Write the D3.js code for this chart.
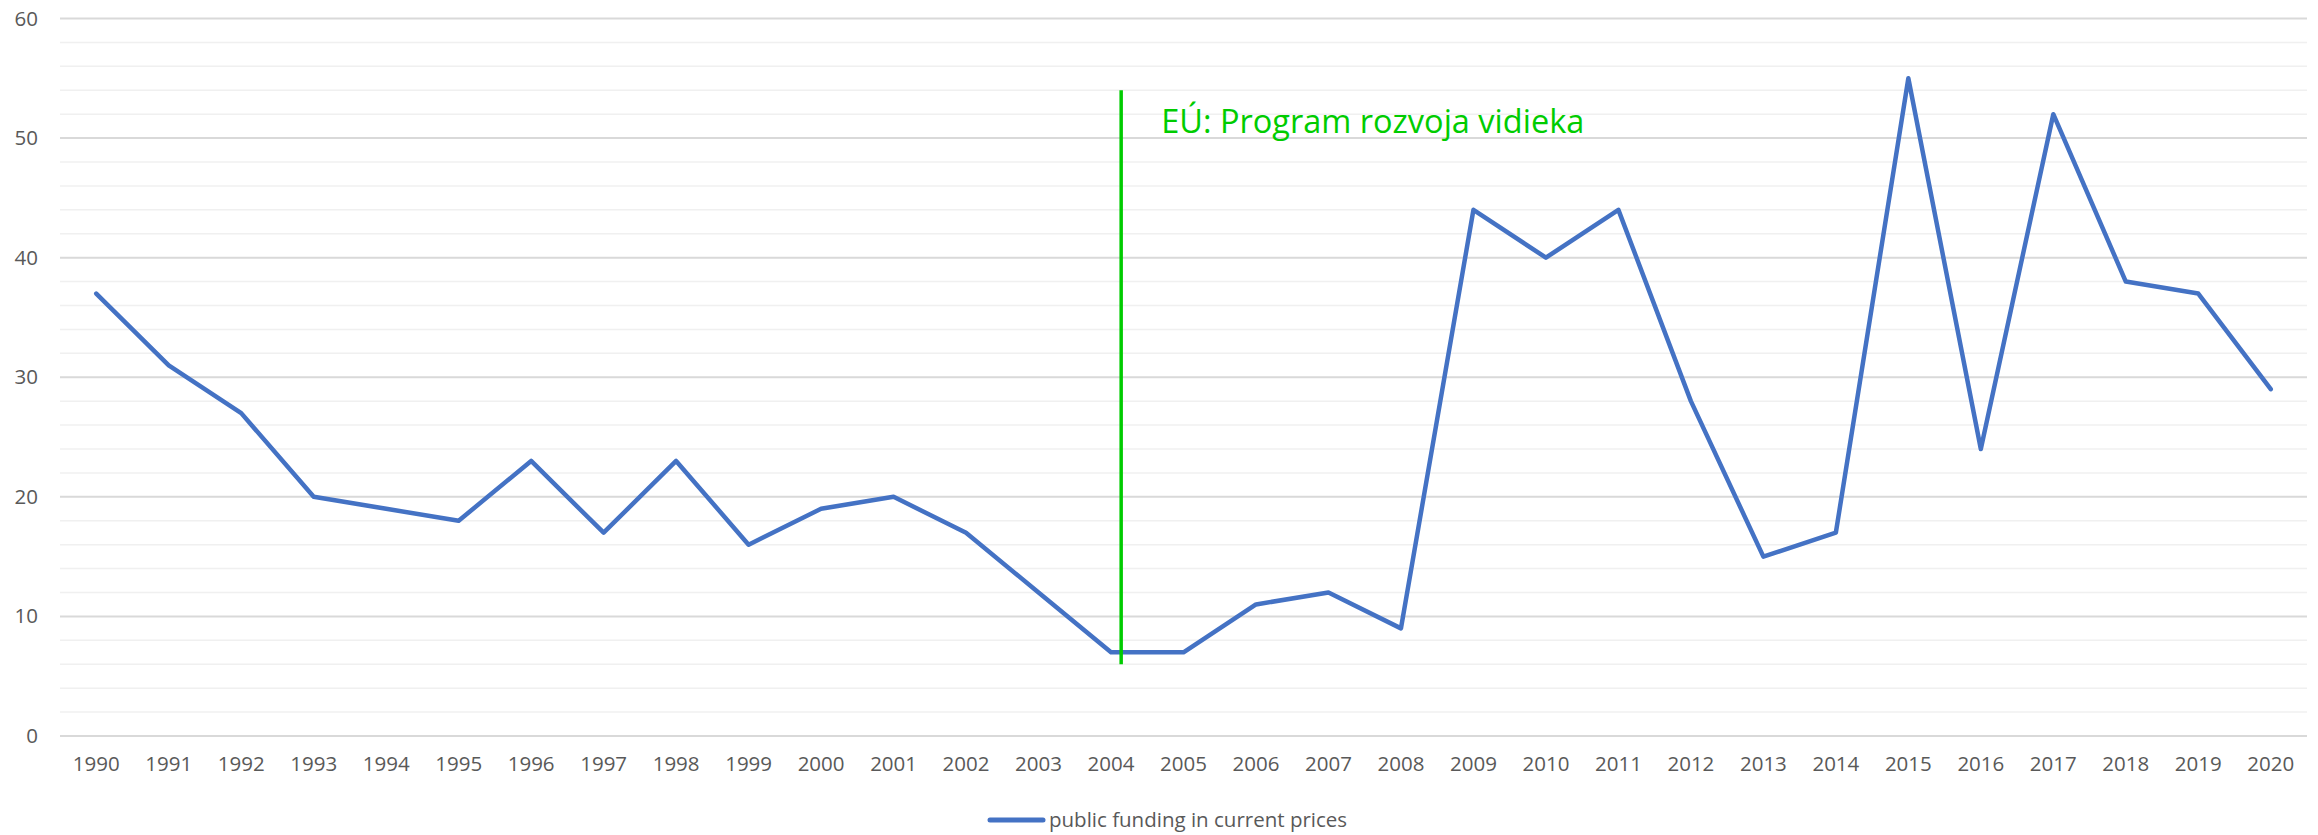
<!DOCTYPE html>
<html lang="en">
<head>
<meta charset="utf-8">
<style>
    body { margin: 0; background: #fff; }
    text { font-family: "Open Sans", sans-serif; fill: #595959; }
    .grid-minor { stroke: #f0f0f0; stroke-width: 1.5; }
    .grid-major { stroke: #d9d9d9; stroke-width: 2; }
</style>
<script src="https://cdn.jsdelivr.net/npm/d3@7"></script>
</head>
<body>
<svg id="chart" width="2318" height="835"></svg>
<script>
    var years = ["1990","1991","1992","1993","1994","1995","1996","1997","1998","1999",
                 "2000","2001","2002","2003","2004","2005","2006","2007","2008","2009",
                 "2010","2011","2012","2013","2014","2015","2016","2017","2018","2019","2020"];
    var funding = [37,31,27,20,19,18,23,17,23,16,
                   19,20,17,12,7,7,11,12,9,44,
                   40,44,28,15,17,55,24,52,38,37,29];
    var yTicks = [0,10,20,30,40,50,60];
    var markerYear = "2004";
    var markerRange = [6, 54];
    var markerLabel = "EÚ: Program rozvoja vidieka";
    var seriesName = "public funding in current prices";

    var svg = d3.select("#chart"),
        plotLeft = 60, plotRight = 2307, plotTop = 18.5, plotBottom = 736;

    var x = d3.scaleBand().domain(years).range([plotLeft, plotRight]);
    var y = d3.scaleLinear().domain([0, 60]).range([plotBottom, plotTop]);

    // minor grid every 2
    svg.append("g").selectAll("line")
        .data(d3.range(0, 61, 2).filter(function(v) { return v % 10 !== 0; }))
        .enter().append("line")
        .attr("class", "grid-minor")
        .attr("x1", plotLeft).attr("x2", plotRight)
        .attr("y1", function(d) { return y(d); })
        .attr("y2", function(d) { return y(d); });

    svg.append("g").selectAll("line")
        .data(yTicks)
        .enter().append("line")
        .attr("class", "grid-major")
        .attr("x1", plotLeft).attr("x2", plotRight)
        .attr("y1", function(d) { return y(d); })
        .attr("y2", function(d) { return y(d); });

    // y axis labels
    var yAxis = svg.append("g")
        .attr("transform", "translate(" + plotLeft + ",0)")
        .call(d3.axisLeft(y).tickValues(yTicks).tickSize(0).tickPadding(22));
    yAxis.select(".domain").remove();
    yAxis.selectAll("text").style("font-size", "20.5px").attr("fill", "#595959");

    // x axis labels
    var xAxis = svg.append("g")
        .attr("transform", "translate(0," + plotBottom + ")")
        .call(d3.axisBottom(x).tickSize(0).tickPadding(20));
    xAxis.select(".domain").remove();
    xAxis.selectAll("text").style("font-size", "20.5px").attr("fill", "#595959");

    // series line
    var line = d3.line()
        .x(function(d, i) { return x(years[i]) + x.bandwidth() / 2; })
        .y(function(d) { return y(d); });

    svg.append("path")
        .datum(funding)
        .attr("d", line)
        .attr("fill", "none")
        .attr("stroke", "#4472C4")
        .attr("stroke-width", 4.5)
        .attr("stroke-linejoin", "round")
        .attr("stroke-linecap", "round");

    // EU marker
    var mx = x(markerYear) + x.bandwidth() * 0.64;
    svg.append("line")
        .attr("x1", mx).attr("x2", mx)
        .attr("y1", y(markerRange[0])).attr("y2", y(markerRange[1]))
        .attr("stroke", "#00CC00")
        .attr("stroke-width", 3.5);

    svg.append("text")
        .attr("x", mx + 40)
        .attr("y", 133)
        .style("font-size", "32.5px")
        .style("fill", "#00CC00")
        .text(markerLabel);

    // legend
    var lg = svg.append("g");
    lg.append("line")
        .attr("x1", 990).attr("x2", 1043)
        .attr("y1", 820).attr("y2", 820)
        .attr("stroke", "#4472C4")
        .attr("stroke-width", 5)
        .attr("stroke-linecap", "round");
    lg.append("text")
        .attr("x", 1049).attr("y", 820)
        .attr("dy", "0.35em")
        .style("font-size", "20.5px")
        .text(seriesName);
</script>
</body>
</html>
